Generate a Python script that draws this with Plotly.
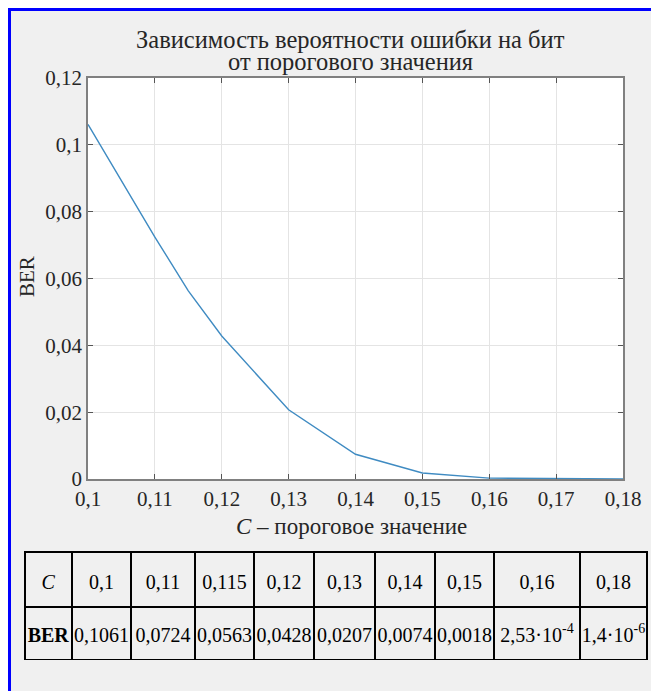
import plotly.graph_objects as go

# ---- data ----
C = [0.1, 0.11, 0.115, 0.12, 0.13, 0.14, 0.15, 0.16, 0.18]
BER = [0.1061, 0.0724, 0.0563, 0.0428, 0.0207, 0.0074, 0.0018, 2.53e-4, 1.4e-6]
C_labels = ["0,1", "0,11", "0,115", "0,12", "0,13", "0,14", "0,15", "0,16", "0,18"]
BER_labels = ["0,1061", "0,0724", "0,0563", "0,0428", "0,0207", "0,0074", "0,0018",
              "2,53·10<sup>-4</sup>", "1,4·10<sup>-6</sup>"]
title_lines = ["Зависимость вероятности ошибки на бит", "от порогового значения"]
x_title = "<i>C</i> – пороговое значение"
y_title = "BER"
row_heads = ["<i>C</i>", "<b>BER</b>"]

# ---- layout geometry (page pixels; the page body adds an 8px offset) ----
OFF = 8
W, H = 651, 683
L, T = 17, 70
R = W - (647 - OFF)
B = H - (660 - OFF)
PW, PH = W - L - R, H - T - B


def px(x):
    return (x - OFF - L) / PW


def py(y):
    return (H - B - (y - OFF)) / PH


SERIF = "Liberation Serif"
col_widths = [47, 59, 64, 59, 60, 61, 60, 59, 86, 67]


def cell(txt):
    # invisible spacer line pushes the real text to the vertical middle of the row
    return "\u00a0<br><span style='font-size:20px'>" + txt + "</span>"


fig = go.Figure()
fig.add_trace(go.Scatter(x=C, y=BER, mode="lines",
                         line=dict(color="#3f8bc2", width=1.4),
                         showlegend=False, hoverinfo="skip"))

fig.add_trace(go.Table(
    domain=dict(x=[0, 1], y=[0, py(552)]),
    columnwidth=col_widths,
    header=dict(values=[cell(v) for v in [row_heads[0]] + C_labels], height=55,
                line=dict(color="black", width=2),
                fill=dict(color="#f0f0f0"),
                font=dict(family=SERIF, size=13, color="black"),
                align="center"),
    cells=dict(values=[[cell(v)] for v in [row_heads[1]] + BER_labels], height=53,
               line=dict(color="black", width=2),
               fill=dict(color="#f0f0f0"),
               font=dict(family=SERIF, size=12, color="black"),
               align="center"),
))

axis_common = dict(showline=True, linecolor="#808080", linewidth=1.5, mirror="ticks",
                   ticks="inside", ticklen=5, tickcolor="#555555", tickwidth=1,
                   showgrid=True, gridcolor="#e4e4e4", gridwidth=1, zeroline=False,
                   automargin=False,
                   tickfont=dict(family=SERIF, size=21, color="#262626"))

fig.update_layout(
    width=W, height=H,
    margin=dict(l=L, r=R, t=T, b=B, pad=0, autoexpand=False),
    paper_bgcolor="#f0f0f0", plot_bgcolor="white",
    separators=", ",
    xaxis=dict(domain=[px(88), px(623)], range=[0.1, 0.18], dtick=0.01, tick0=0.1,
               **axis_common),
    yaxis=dict(domain=[py(479), 1], range=[0, 0.12], dtick=0.02, tick0=0,
               **axis_common),
)

annotations = [
    dict(text=title_lines[0], x=px(350), y=py(39.5), size=24.5),
    dict(text=title_lines[1], x=px(350), y=py(61), size=24.5),
    dict(text=x_title, x=px(351), y=py(526), size=23),
    dict(text=y_title, x=px(27), y=py(277), size=21, textangle=-90),
]
for a in annotations:
    size = a.pop("size")
    fig.add_annotation(xref="paper", yref="paper", showarrow=False,
                       xanchor="center", yanchor="middle",
                       font=dict(family=SERIF, size=size, color="#262626"), **a)

# blue frame on the top and left edges
shapes = [
    dict(x0=px(OFF), x1=px(OFF + W), y0=py(OFF), y1=py(OFF + 3)),
    dict(x0=px(OFF), x1=px(OFF + 3), y0=py(OFF), y1=py(OFF + H)),
]
for s in shapes:
    fig.add_shape(type="rect", xref="paper", yref="paper", line=dict(width=0),
                  fillcolor="#0000ff", layer="above", **s)

fig.write_html("out.html")
